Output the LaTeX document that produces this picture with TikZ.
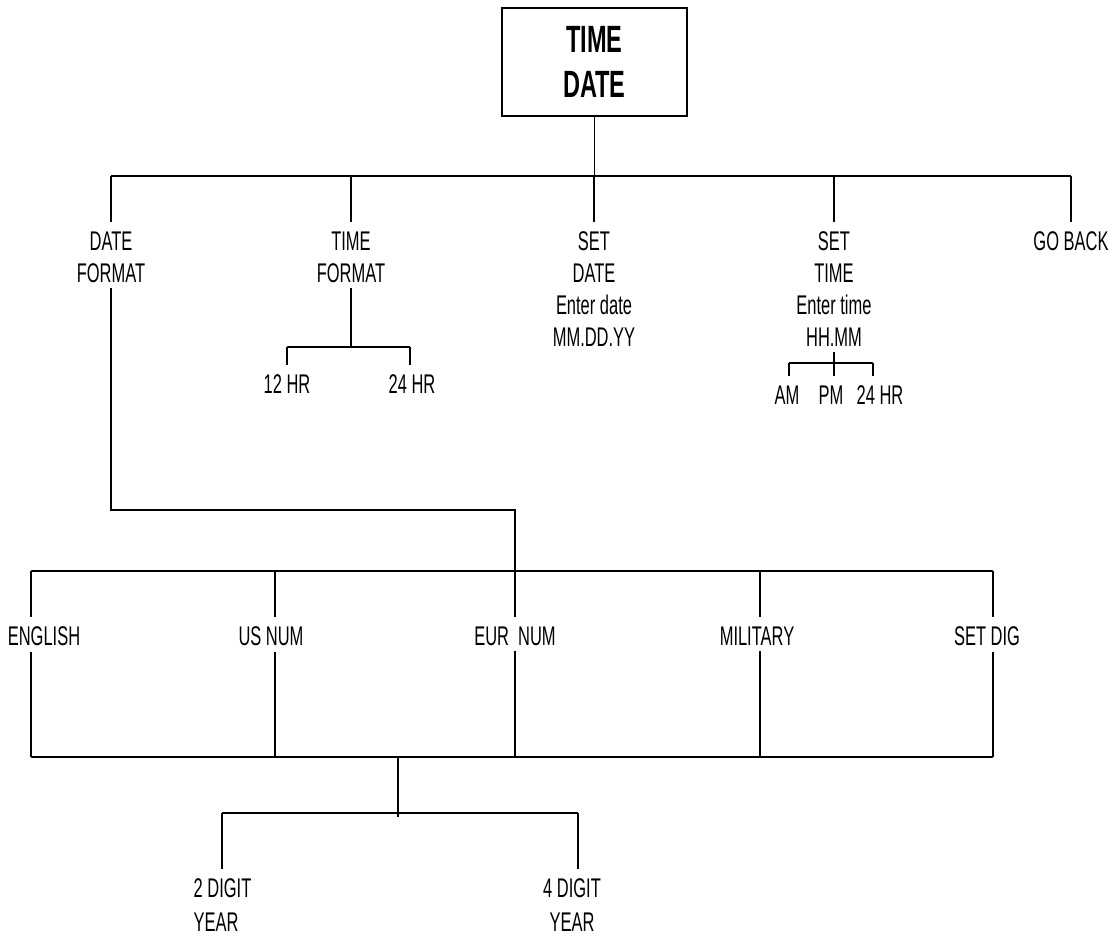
\documentclass[tikz,border=0pt]{standalone}
\usepackage{fontspec}
\setmainfont{Liberation Sans}[FakeStretch=0.61]
\newfontfamily\ttlfont{Liberation Sans}[FakeStretch=0.62]
\tikzset{every path/.style={black, line width=1.4pt},
  lbl/.style={inner xsep=2pt, inner ysep=5pt, align=center, anchor=north, font=\fontsize{27}{32}\selectfont},
  yr/.style={lbl, font=\fontsize{27}{34}\selectfont},
  down/.style={shorten >=4pt}}

\begin{document}
\begin{tikzpicture}[x=1pt,y=-1pt]
  \useasboundingbox (0,0) rectangle (1113,935);
  \node[draw, minimum width=185pt, minimum height=108pt, align=center,
        font=\fontsize{38}{45}\ttlfont\bfseries] (title) at (594.5,62) {TIME\\DATE};

  \coordinate (busA) at (111,176);
  \coordinate (busB) at (1071,176);
  \node[lbl] (datefmt) at (111,226) {DATE\\FORMAT};
  \node[lbl] (timefmt) at (351,226) {TIME\\FORMAT};
  \node[lbl] (setdate) at (594,226) {SET\\DATE\\Enter date\\MM.DD.YY};
  \node[lbl] (settime) at (834,226) {SET\\TIME\\Enter time\\HH.MM};
  \node[lbl] (goback) at (1071,226) {GO BACK};
  \draw (title) -- (title |- busA);
  \draw (busA) -- (busB);
  \foreach \n in {datefmt, timefmt, setdate, settime, goback}
    \draw[down] (busA -| \n) -- (\n.north);

  \coordinate (tfL) at (287,347);
  \coordinate (tfR) at (410,347);
  \node[lbl] (hr12) at (287,369) {12 HR};
  \node[lbl] (hr24) at (412,369) {24 HR};
  \draw (timefmt.south) -- (timefmt.south |- tfL);
  \draw (tfL) -- (tfR);
  \draw[down] (tfL) -- (tfL |- hr12.north);
  \draw[down] (tfR) -- (tfR |- hr24.north);

  \coordinate (stL) at (789,363);
  \coordinate (stR) at (873,363);
  \node[lbl] (am) at (787,380) {AM};
  \node[lbl] (pm) at (831,380) {PM};
  \node[lbl] (hr24b) at (880,380) {24 HR};
  \draw[down] (settime.south) -- (settime.south |- pm.north);
  \draw (stL) -- (stR);
  \draw[down] (stL) -- (stL |- am.north);
  \draw[down] (stR) -- (stR |- hr24b.north);

  \coordinate (l1) at (31,571);
  \coordinate (l2) at (275,571);
  \coordinate (l3) at (515,571);
  \coordinate (l4) at (760,571);
  \coordinate (l5) at (993,571);
  \coordinate (dfK) at (111,510);
  \coordinate (dfJ) at (515,510);
  \coordinate (b3L) at (31,757);
  \coordinate (b3R) at (993,757);
  \node[lbl] (english) at (44,621) {ENGLISH};
  \node[lbl] (usnum) at (271,621) {US NUM};
  \node[lbl] (eurnum) at (515,621) {EUR\,\,NUM};
  \node[lbl] (military) at (757,621) {MILITARY};
  \node[lbl] (setdig) at (987,621) {SET DIG};
  \draw[down] (datefmt.south) -- (dfK) -- (dfJ) -- (eurnum.north);
  \draw (l1) -- (l5);
  \draw (b3L) -- (b3R);
  \draw (eurnum.south) -- (eurnum.south |- b3L);
  \foreach \i/\n in {1/english, 2/usnum, 4/military, 5/setdig} {
    \draw[down] (l\i) -- (l\i |- \n.north);
    \draw (\n.south -| l\i) -- (l\i |- b3L);
  }

  \coordinate (yM) at (398,757);
  \coordinate (yE) at (398,817);
  \coordinate (yL) at (222,813);
  \coordinate (yR) at (578,813);
  \node[yr, anchor=north west, align=left] (dig2) at (191,873) {2 DIGIT\\YEAR};
  \node[yr] (dig4) at (572,873) {4 DIGIT\\YEAR};
  \draw (yM) -- (yE);
  \draw (yL) -- (yR);
  \draw[down] (yL) -- (yL |- dig2.north);
  \draw[down] (yR) -- (yR |- dig4.north);
\end{tikzpicture}
\end{document}
